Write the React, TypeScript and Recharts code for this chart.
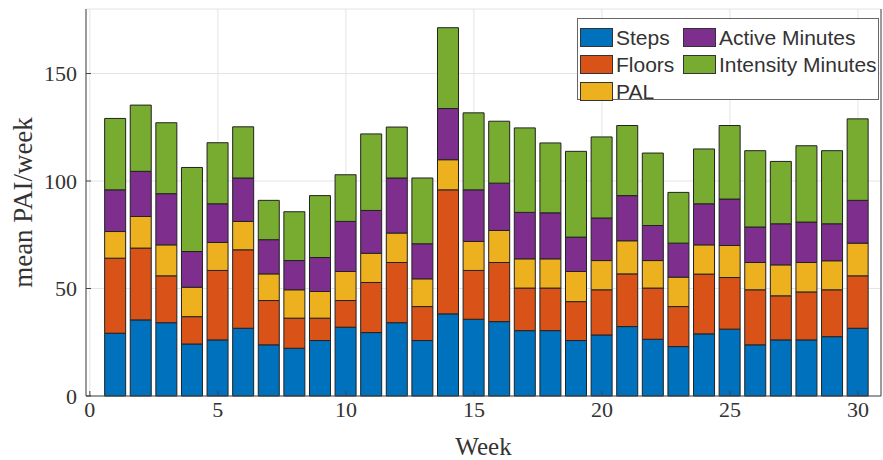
import { BarChart, Bar, XAxis, YAxis, CartesianGrid, Legend } from "recharts";

const weeks = [1, 2, 3, 4, 5, 6, 7, 8, 9, 10, 11, 12, 13, 14, 15, 16, 17, 18, 19, 20, 21, 22, 23, 24, 25, 26, 27, 28, 29, 30];

const steps = [29.2, 35.4, 34.1, 24.2, 26.1, 31.5, 23.8, 22.2, 25.8, 32.0, 29.5, 34.1, 25.8, 38.2, 35.7, 34.6, 30.4, 30.4, 25.8, 28.4, 32.3, 26.4, 23.0, 28.9, 31.1, 23.8, 26.1, 26.1, 27.6, 31.5];
const floors = [34.9, 33.4, 21.8, 12.7, 32.3, 36.5, 20.6, 14.0, 10.4, 12.4, 23.3, 28.0, 15.8, 57.7, 22.7, 27.5, 19.8, 19.8, 18.1, 21.0, 24.5, 23.8, 18.6, 27.8, 24.0, 25.6, 20.5, 22.3, 21.8, 24.4];
const pal = [12.4, 14.7, 14.4, 13.7, 13.0, 13.2, 12.4, 13.2, 12.4, 13.5, 13.6, 13.7, 12.9, 14.0, 13.5, 14.9, 13.6, 13.6, 14.0, 13.6, 15.4, 12.8, 13.7, 13.6, 14.9, 12.7, 14.4, 13.7, 13.5, 15.2];
const activeMinutes = [19.4, 21.0, 23.8, 16.6, 18.0, 20.2, 15.9, 13.6, 15.8, 23.3, 19.9, 25.6, 16.3, 23.8, 24.0, 22.0, 21.6, 21.4, 16.0, 19.8, 21.0, 16.3, 15.8, 19.1, 21.6, 16.5, 19.1, 18.8, 17.2, 19.9];
const intensityMinutes = [33.2, 30.8, 33.0, 39.1, 28.4, 23.8, 18.3, 22.7, 28.8, 21.7, 35.6, 23.7, 30.6, 37.6, 35.8, 28.8, 39.3, 32.5, 39.9, 37.7, 32.6, 33.7, 23.6, 25.5, 34.2, 35.5, 29.0, 35.5, 34.0, 37.9];

const xTicks = [0, 5, 10, 15, 20, 25, 30];
const yTicks = [0, 50, 100, 150];

const seriesKeys = ["steps", "floors", "pal", "active", "intensity"];
const seriesNames = ["Steps", "Floors", "PAL", "Active Minutes", "Intensity Minutes"];
const seriesColors = ["#0072BD", "#D95319", "#EDB120", "#7E2F8E", "#77AC30"];

const data = weeks.map((w, i) => ({
  week: w,
  steps: steps[i],
  floors: floors[i],
  pal: pal[i],
  active: activeMinutes[i],
  intensity: intensityMinutes[i],
}));

const axisColor = "#444";
const tickStyle = { fontFamily: "'Liberation Serif', serif", fontSize: 22, fill: "#333" };

function Swatch({ color }: { color: string }) {
  return (
    <span
      style={{
        display: "inline-block",
        width: 31,
        height: 17,
        background: color,
        border: "1px solid #333",
        marginRight: 3,
        flexShrink: 0,
      }}
    />
  );
}

function LegendBox() {
  // MATLAB fills the legend column by column: 3 rows, 2 columns
  const cols = [[0, 1, 2], [3, 4]];
  return (
    <div
      style={{
        boxSizing: "border-box",
        width: 302,
        height: 82,
        background: "#fff",
        border: "1px solid #666",
        display: "flex",
        padding: "5px 0 0 2px",
        fontFamily: "'Liberation Sans', Arial, sans-serif",
        fontSize: 21,
        color: "#333",
      }}
    >
      {cols.map((col, ci) => (
        <div key={ci} style={{ width: ci === 0 ? 103 : 190 }}>
          {col.map((k) => (
            <div key={k} style={{ display: "flex", alignItems: "center", height: 27, whiteSpace: "nowrap" }}>
              <Swatch color={seriesColors[k]} />
              {seriesNames[k]}
            </div>
          ))}
        </div>
      ))}
    </div>
  );
}

export default function App() {
  return (
    <div style={{ position: "absolute", left: 0, top: 0, width: 883, height: 460, background: "#fff" }}>
      <BarChart width={883} height={460} data={data} margin={{ top: 9, right: 1, bottom: 0, left: 0 }}>
        <CartesianGrid stroke="#e4e4e4" strokeWidth={1} />
        <XAxis
          dataKey="week"
          type="number"
          domain={[-0.15, 30.9]}
          allowDataOverflow
          ticks={xTicks}
          height={64}
          tickSize={-5}
          tickMargin={10}
          stroke={axisColor}
          tick={tickStyle}
          label={{
            value: "Week",
            position: "insideBottom",
            offset: 5,
            style: { fontFamily: "'Liberation Serif', serif", fontSize: 25, fill: "#333" },
          }}
        />
        <XAxis
          xAxisId="top"
          orientation="top"
          dataKey="week"
          type="number"
          domain={[-0.15, 30.9]}
          allowDataOverflow
          ticks={xTicks}
          height={0}
          tickSize={-5}
          tick={false}
          stroke={axisColor}
        />
        <YAxis
          type="number"
          domain={[0, 180]}
          ticks={yTicks}
          width={86}
          tickSize={-5}
          tickMargin={14}
          stroke={axisColor}
          tick={tickStyle}
          label={{
            value: "mean PAI/week",
            angle: -90,
            position: "insideLeft",
            offset: 22,
            style: { textAnchor: "middle", fontFamily: "'Liberation Serif', serif", fontSize: 27, fill: "#333" },
          }}
        />
        <YAxis
          yAxisId="right"
          orientation="right"
          type="number"
          domain={[0, 180]}
          ticks={yTicks}
          width={1}
          tickSize={-5}
          tick={false}
          stroke={axisColor}
        />
        {seriesKeys.map((key, i) => (
          <Bar
            key={key}
            dataKey={key}
            name={seriesNames[i]}
            stackId="pai"
            fill={seriesColors[i]}
            stroke="#222"
            strokeWidth={1}
            barSize={21}
            isAnimationActive={false}
          />
        ))}
        <Legend
          layout="horizontal"
          verticalAlign="middle"
          align="center"
          content={() => <LegendBox />}
          wrapperStyle={{ left: 577, top: 18, width: 302, height: 82 }}
        />
      </BarChart>
    </div>
  );
}
